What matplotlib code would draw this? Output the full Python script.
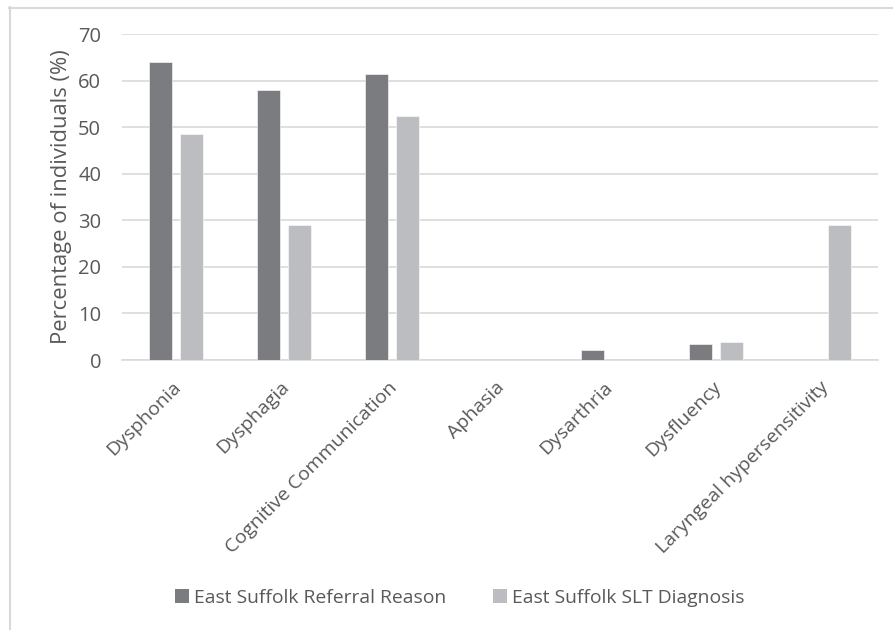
import matplotlib
matplotlib.use("Agg")
import matplotlib.pyplot as plt
from matplotlib.lines import Line2D
from matplotlib.patches import Patch
import numpy as np

categories = ["Dysphonia", "Dysphagia", "Cognitive Communication", "Aphasia",
              "Dysarthria", "Dysfluency", "Laryngeal hypersensitivity"]
referral_reason = [64.0, 58.0, 61.5, 0.0, 2.2, 3.4, 0.0]
slt_diagnosis = [48.6, 29.0, 52.4, 0.0, 0.0, 3.9, 29.0]
series_names = ["East Suffolk Referral Reason", "East Suffolk SLT Diagnosis"]
yticks = [0, 10, 20, 30, 40, 50, 60, 70]

DARK = "#7b7c80"
LIGHT = "#bcbdc1"
TEXT = "#595959"
GRID = "#d9d9d9"

plt.rcParams["font.family"] = ["Open Sans", "DejaVu Sans"]

W, H = 893, 630
fig = plt.figure(figsize=(W / 100, H / 100), dpi=100)
ax = fig.add_axes([122 / W, 1 - 360 / H, (878 - 122) / W, (360 - 34) / H])

x = np.arange(len(categories))
bw = 0.222
off = 0.1435
ax.bar(x - off, referral_reason, bw, color=DARK, edgecolor="white",
       linewidth=0.4, zorder=3)
ax.bar(x + off, slt_diagnosis, bw, color=LIGHT, edgecolor="white",
       linewidth=0.4, zorder=3)

ax.set_xlim(-0.5, len(categories) - 0.5)
ax.set_ylim(0, 70)
ax.set_yticks(yticks)
ax.yaxis.grid(True, color=GRID, linewidth=1.2, zorder=0)
ax.set_axisbelow(True)
for s in ["top", "right", "left"]:
    ax.spines[s].set_visible(False)
ax.spines["bottom"].set_color(GRID)
ax.spines["bottom"].set_linewidth(1.2)
ax.tick_params(axis="y", length=0, pad=15, labelsize=14.5, labelcolor=TEXT)
ax.tick_params(axis="x", length=0, pad=13)
ax.set_xticks(x - 0.04)
ax.set_xticklabels(categories, rotation=45, ha="right", va="top",
                   rotation_mode="anchor", fontsize=14, color=TEXT)
ax.set_ylabel("Percentage of individuals (%)", fontsize=15.8, color=TEXT,
              labelpad=4)

# chart-area frame (left and top edges)
fig.add_artist(Line2D([9.5 / W, 9.5 / W], [0, 1 - 7 / H],
                      transform=fig.transFigure, color=GRID, linewidth=1.5))
fig.add_artist(Line2D([9 / W, 1], [1 - 7.5 / H, 1 - 7.5 / H],
                      transform=fig.transFigure, color=GRID, linewidth=1.5))

handles = [Patch(facecolor=DARK), Patch(facecolor=LIGHT)]
fig.legend(handles, series_names, loc="center", bbox_to_anchor=(460 / W, 1 - 598 / H),
           ncol=2, frameon=False, fontsize=13.9, labelcolor=TEXT,
           handlelength=0.7, handleheight=0.7, handletextpad=0.3,
           columnspacing=2.4)

fig.savefig("out.png", dpi=100)
